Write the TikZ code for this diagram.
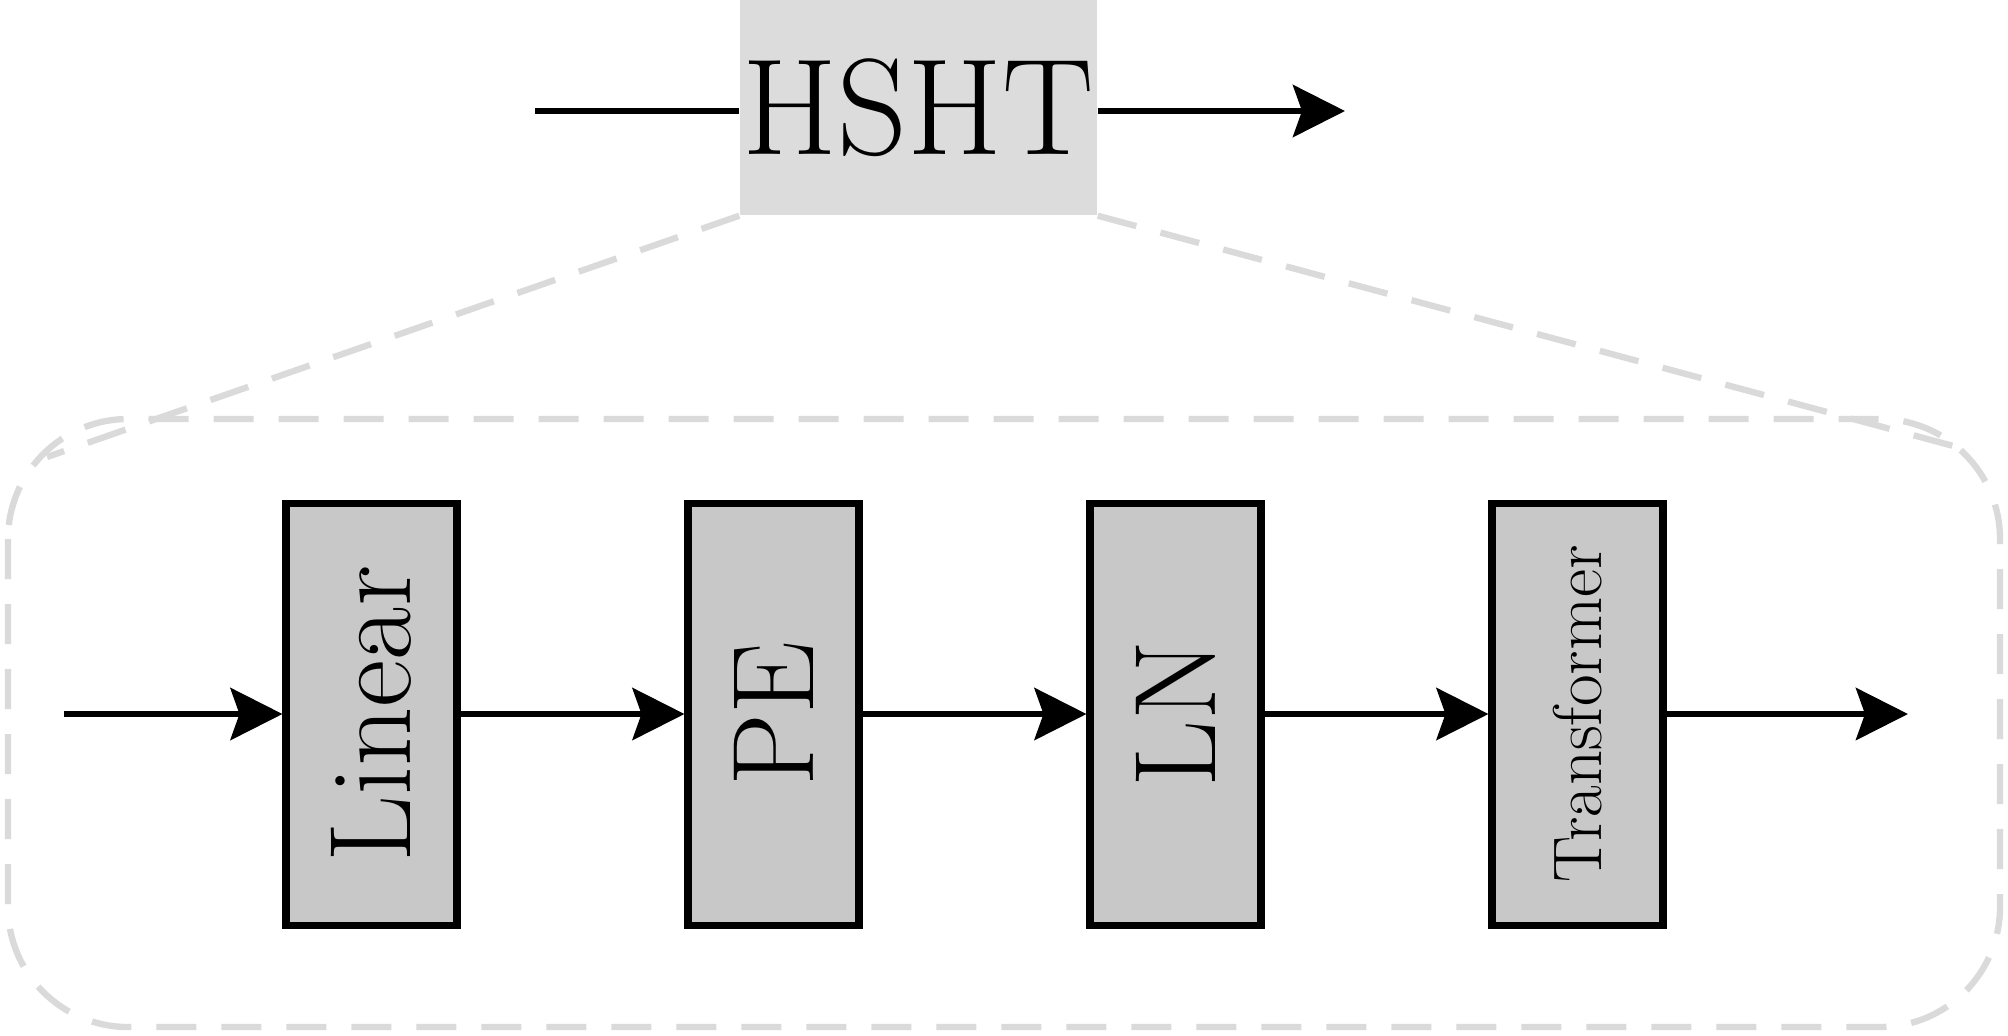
\documentclass[tikz,border=0pt]{standalone}
\usepackage{fontspec}
\usetikzlibrary{arrows.meta}
\definecolor{hbg}{gray}{0.863}
\definecolor{bbg}{gray}{0.784}
\definecolor{dashc}{gray}{0.855}
\tikzset{
  blk/.style={draw=black, line width=2pt, fill=bbg, minimum width=1.71cm, minimum height=4.22cm, inner sep=0pt},
  conn/.style={line width=1.8pt, -{Stealth[length=5.2mm,width=5.2mm,inset=0.9mm]}},
  plain/.style={line width=1.8pt},
  zoomline/.style={dashc, line width=1.8pt, dash pattern=on 0.4cm off 0.25cm},
  bigtxt/.style={font=\fontsize{33}{40}\selectfont},
}
\begin{document}
\begin{tikzpicture}
\useasboundingbox (0,0) rectangle (20.08,-10.35);
% top HSHT block
\node[fill=hbg, minimum width=3.57cm, minimum height=2.15cm, inner sep=0pt,
      font=\fontsize{39}{46}\selectfont] (hsht) at (9.185,-1.075) {HSHT};
\coordinate (hin) at (5.35,-1.11);
\coordinate (hout) at (13.45,-1.11);
\draw[plain] (hin) -- (hin -| hsht.west);
\draw[conn] (hsht.east |- hout) -- (hout);
% zoom outline
\coordinate (zl) at (0.47,-4.57);
\coordinate (zr) at (19.72,-4.51);
\draw[zoomline] (hsht.south west) -- (zl);
\draw[zoomline] (hsht.south east) -- (zr);
\draw[zoomline, rounded corners=1.2cm] (0.08,-4.19) rectangle (20.0,-10.27);
% blocks
\node[blk, bigtxt] (lin) at (3.715,-7.14) {\rotatebox{90}{Linear}};
\node[blk, bigtxt] (pe) at (7.735,-7.14) {\rotatebox{90}{PE}};
\node[blk, bigtxt] (ln) at (11.755,-7.14) {\rotatebox{90}{LN}};
\node[blk, font=\fontsize{19.6}{24}\selectfont] (tr) at (15.775,-7.14) {\rotatebox{90}{Transformer}};
\coordinate (in) at (0.64,-7.14);
\coordinate (out) at (19.08,-7.14);
\draw[conn] (in) -- (lin);
\draw[conn] (lin) -- (pe);
\draw[conn] (pe) -- (ln);
\draw[conn] (ln) -- (tr);
\draw[conn] (tr) -- (out);
\end{tikzpicture}
\end{document}
